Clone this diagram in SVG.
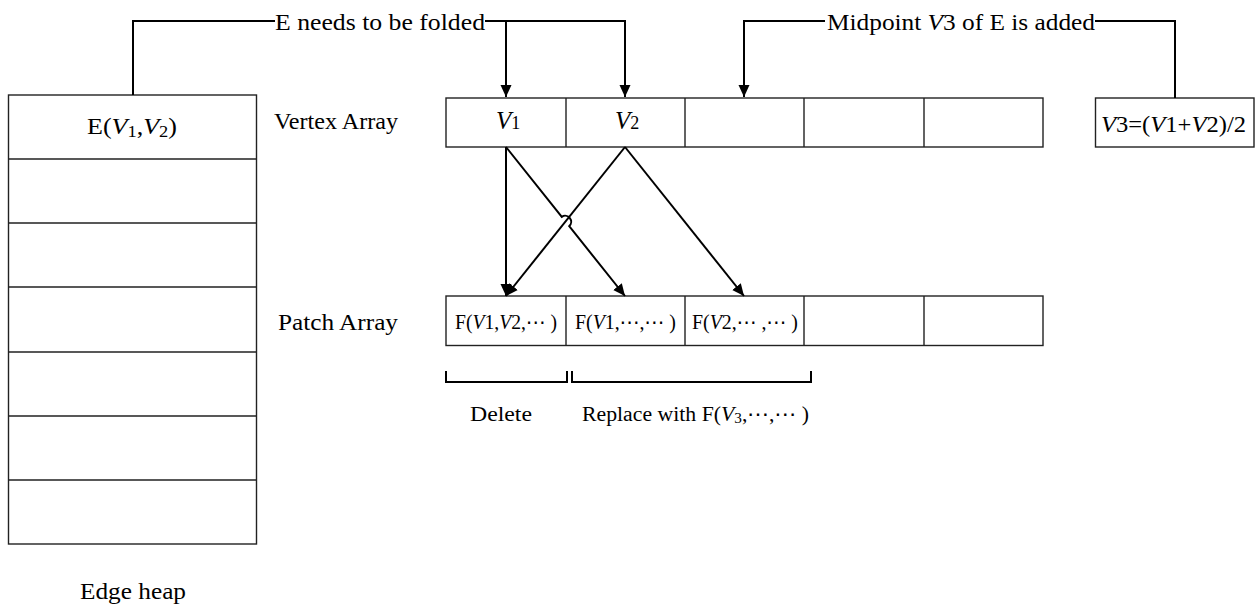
<svg xmlns="http://www.w3.org/2000/svg" width="1258" height="608" viewBox="0 0 1258 608">
<style>
.box{fill:#fff;stroke:#222;stroke-width:1.4}
.sep{stroke:#222;stroke-width:1.4;fill:none}
.con{stroke:#000;stroke-width:2;fill:none}
.t{font-family:"Liberation Serif","Times New Roman",serif;fill:#000}
.i{font-style:italic}
.d{font-family:"DejaVu Sans",sans-serif}
</style>
<defs>
<marker id="ah" viewBox="0 0 12 12" refX="12" refY="6" markerWidth="12" markerHeight="12" markerUnits="userSpaceOnUse" orient="auto">
<path d="M0,0.5 L12,6 L0,11.5 Z" fill="#000"/>
</marker>
</defs>
<rect width="1258" height="608" fill="#fff"/>

<g id="edge-heap">
<rect class="box" x="8.5" y="95" width="248" height="449"/>
<path class="sep" d="M8.5,159H256.5M8.5,223H256.5M8.5,287H256.5M8.5,352H256.5M8.5,416H256.5M8.5,480H256.5"/>
<text class="t" x="87" y="134" font-size="24" textLength="90" lengthAdjust="spacingAndGlyphs">E(<tspan class="i">V</tspan><tspan font-size="17" dy="3">1</tspan><tspan dy="-3">,</tspan><tspan class="i">V</tspan><tspan font-size="17" dy="3">2</tspan><tspan dy="-3">)</tspan></text>
<text class="t" x="80" y="599" font-size="24" textLength="106" lengthAdjust="spacingAndGlyphs">Edge heap</text>
</g>

<g id="vertex-array">
<text class="t" x="274" y="129" font-size="23" textLength="124" lengthAdjust="spacingAndGlyphs">Vertex Array</text>
<rect class="box" x="446" y="98" width="597" height="49"/>
<path class="sep" d="M566,98V147M685,98V147M804,98V147M924,98V147"/>
<text class="t" x="496" y="129" font-size="25"><tspan class="i">V</tspan><tspan font-size="18">1</tspan></text>
<text class="t" x="615" y="129" font-size="25"><tspan class="i">V</tspan><tspan font-size="18">2</tspan></text>
</g>

<g id="v3-box">
<rect class="box" x="1095.5" y="98" width="158.5" height="49"/>
<text class="t" x="1101" y="132" font-size="24" textLength="145" lengthAdjust="spacingAndGlyphs"><tspan class="i">V</tspan>3=(<tspan class="i">V</tspan>1+<tspan class="i">V</tspan>2)/2</text>
</g>

<g id="patch-array">
<text class="t" x="278" y="330" font-size="23" textLength="120" lengthAdjust="spacingAndGlyphs">Patch Array</text>
<rect class="box" x="446" y="296" width="597" height="49.5"/>
<path class="sep" d="M566,296V345.5M685,296V345.5M804,296V345.5M924,296V345.5"/>
<text class="t" x="455" y="329" font-size="20" textLength="102" lengthAdjust="spacingAndGlyphs">F(<tspan class="i">V</tspan>1,<tspan class="i">V</tspan>2,<tspan class="d">⋯</tspan> )</text>
<text class="t" x="575" y="329" font-size="20" textLength="101" lengthAdjust="spacingAndGlyphs">F(<tspan class="i">V</tspan>1,<tspan class="d">⋯</tspan>,<tspan class="d">⋯</tspan> )</text>
<text class="t" x="692" y="329" font-size="20" textLength="106" lengthAdjust="spacingAndGlyphs">F(<tspan class="i">V</tspan>2,<tspan class="d">⋯</tspan> ,<tspan class="d">⋯</tspan> )</text>
</g>

<g id="brackets">
<path class="con" d="M446,371V382H567V371M572,371V382H811V371"/>
<text class="t" x="470" y="421" font-size="20" textLength="62" lengthAdjust="spacingAndGlyphs">Delete</text>
<text class="t" x="582" y="421" font-size="20" textLength="227" lengthAdjust="spacingAndGlyphs">Replace with F(<tspan class="i">V</tspan><tspan font-size="14" dy="2">3</tspan><tspan dy="-2">,</tspan><tspan class="d">⋯</tspan>,<tspan class="d">⋯</tspan> )</text>
</g>

<g id="top-labels">
<text class="t" x="275" y="30" font-size="24" textLength="210" lengthAdjust="spacingAndGlyphs">E needs to be folded</text>
<text class="t" x="827" y="30" font-size="24" textLength="268" lengthAdjust="spacingAndGlyphs">Midpoint <tspan class="i">V</tspan>3 of E is added</text>
</g>

<g id="connectors">
<path class="con" d="M133,95V21H275"/>
<path class="con" d="M485,21H625V97" marker-end="url(#ah)"/>
<path class="con" d="M506,21V97" marker-end="url(#ah)"/>
<path class="con" d="M825,21H744V97" marker-end="url(#ah)"/>
<path class="con" d="M1095,21H1175V98"/>
<path class="con" d="M506,147V296" marker-end="url(#ah)"/>
<path class="con" d="M506,147L561.8,216.8A6,6 0 0 1 569.2,226.2L625,296" marker-end="url(#ah)"/>
<path class="con" d="M625,147L506,296" marker-end="url(#ah)"/>
<path class="con" d="M625,147L744,296" marker-end="url(#ah)"/>
</g>
</svg>
